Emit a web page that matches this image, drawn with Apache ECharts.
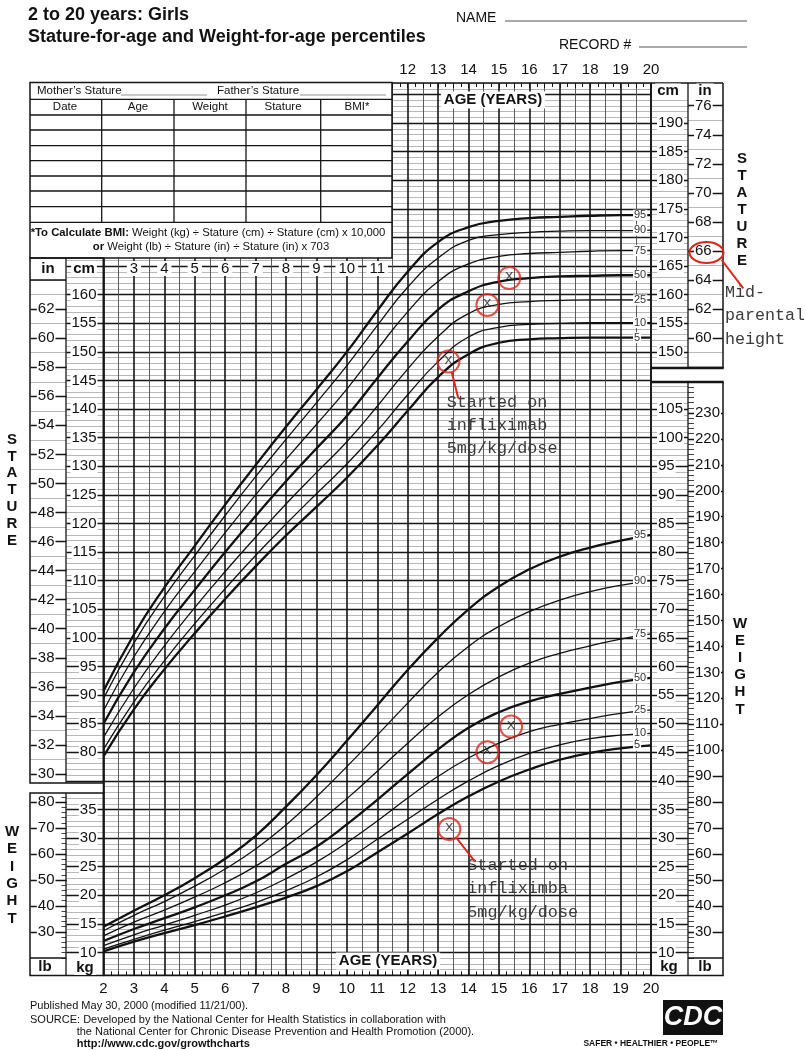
<!DOCTYPE html>
<html><head><meta charset="utf-8">
<script src="https://cdn.jsdelivr.net/npm/echarts@6/dist/echarts.min.js"></script>
<style>html,body{margin:0;padding:0;background:#fff}#c{width:806px;height:1050px}</style>
</head><body><div id="c"></div>
<script>
// ---------------- data ----------------
const ages = [2,3,4,5,6,7,8,9,10,11,12,13,14,15,16,17,18,19,20];
const stat5  = [79.3,87.5,94.5,100.8,106.8,112.5,117.9,122.9,128.0,133.6,139.7,145.6,149.6,151.6,152.2,152.4,152.5,152.5,152.5];
const stat10 = [80.5,88.8,96.0,102.5,108.6,114.4,119.9,125.2,130.4,136.2,142.5,148.3,152.6,154.3,154.8,155.0,155.1,155.1,155.1];
const stat25 = [82.6,91.2,98.6,105.3,111.6,117.6,123.4,128.9,134.3,140.5,147.0,152.7,156.7,158.3,158.8,159.0,159.1,159.1,159.1];
const stat50 = [85.0,94.0,101.6,108.4,115.0,121.3,127.4,133.1,138.8,145.4,151.8,157.4,160.6,162.3,162.9,163.2,163.3,163.4,163.4];
const stat75 = [87.3,96.7,104.6,111.6,118.4,125.0,131.2,137.3,143.5,150.4,157.0,162.3,165.4,166.7,167.2,167.4,167.6,167.7,167.7];
const stat90 = [89.4,99.1,107.2,114.4,121.4,128.2,134.7,141.1,147.6,154.6,161.3,166.4,169.5,170.5,170.9,171.1,171.2,171.2,171.3];
const stat95 = [90.7,100.6,108.8,116.1,123.3,130.2,136.9,143.4,150.0,157.2,164.0,169.2,171.8,172.9,173.4,173.6,173.8,173.9,173.9];

const wt5  = [10.2,11.9,13.4,14.8,16.3,17.9,19.6,21.6,24.2,27.5,30.8,34.2,37.3,39.9,42.0,43.7,44.9,45.7,46.2];
const wt10 = [10.6,12.3,13.9,15.4,17.0,18.7,20.8,23.2,26.2,29.8,33.3,36.8,40.0,42.7,44.8,46.3,47.4,48.0,48.3];
const wt25 = [11.2,13.1,14.8,16.5,18.3,20.4,22.9,25.8,29.2,33.0,37.0,40.8,44.0,46.6,48.6,49.9,50.9,51.8,52.4];
const wt50 = [12.0,14.1,16.0,17.9,20.0,22.4,25.5,28.5,32.4,36.7,41.2,45.5,49.3,52.0,53.9,55.2,56.3,57.3,58.0];
const wt75 = [12.9,15.3,17.4,19.7,22.2,25.1,28.6,32.5,36.9,41.7,46.6,51.2,55.1,58.2,60.6,62.3,63.6,64.8,65.7];
const wt90 = [13.8,16.5,18.9,21.6,24.6,28.1,32.3,37.2,42.5,48.0,53.6,59.0,63.5,67.0,69.6,71.6,73.1,74.2,75.0];
const wt95 = [14.5,17.3,20.0,23.0,26.4,30.4,35.5,41.0,47.0,53.2,59.4,65.0,70.0,74.0,77.0,79.2,80.8,82.0,83.0];

// patient measurements (circled x marks)
const patStatAge = [13.34, 14.62, 15.34];
const patStatCm  = [148.3, 158.2, 162.9];
const patWtAge   = [13.37, 14.62, 15.4];
const patWtKg    = [31.6, 45.0, 49.5];

// tick labels
const ageLabelsBottom = [2,3,4,5,6,7,8,9,10,11,12,13,14,15,16,17,18,19,20];
const ageLabelsTop    = [12,13,14,15,16,17,18,19,20];
const ageLabelsMid    = [3,4,5,6,7,8,9,10,11];
const leftCmLabels  = [80,85,90,95,100,105,110,115,120,125,130,135,140,145,150,155,160];
const leftInLabels  = [30,32,34,36,38,40,42,44,46,48,50,52,54,56,58,60,62];
const leftKgLabels  = [10,15,20,25,30,35];
const leftLbLabels  = [30,40,50,60,70,80];
const rightCmLabels = [150,155,160,165,170,175,180,185,190];
const rightInLabels = [60,62,64,66,68,70,72,74,76];
const rightKgLabels = [10,15,20,25,30,35,40,45,50,55,60,65,70,75,80,85,90,95,100,105];
const rightLbLabels = [30,40,50,60,70,80,90,100,110,120,130,140,150,160,170,180,190,200,210,220,230];

// ---------------- layout ----------------
const SANS = "'Liberation Sans', Arial, Helvetica, sans-serif";
const MONO = "'Liberation Mono', 'Courier New', monospace";
const RED = '#e2231a';
const P = 5.72, Y10 = 952.5;           // px per kg/cm, pixel row of 10 kg
const kgMin = 6, kgMax = 162;
const cmMin = kgMin + 35, cmMax = kgMax + 35;
const IN = 2.54, LB = 2.20462;
const GL = 103.5, GR = 651;
const GT = Y10 - (kgMax - 10) * P, GB = Y10 + (10 - kgMin) * P;
const lineG = '#a6a6a6', lineD = '#151515';

function range(a, b, s) { const r = []; for (let v = a; v <= b + 1e-9; v += s) r.push(+v.toFixed(4)); return r; }

function sideAxis(pos, offset, min, max, ticks, len, color, width, labels, margin, z) {
  const a = { type: 'value', gridIndex: 0, position: pos, offset: offset, min: min, max: max, z: z || 1,
    splitLine: { show: false }, axisLine: { show: false },
    axisTick: { show: true, customValues: ticks, length: len, lineStyle: { color: color, width: width } },
    axisLabel: { show: false } };
  if (labels) a.axisLabel = { show: true, customValues: labels, margin: margin, fontSize: 15, color: '#111',
    fontFamily: SANS, backgroundColor: '#fff', padding: [0, 1] };
  return a;
}

const yAxes = [
  { type: 'value', gridIndex: 0, position: 'left', min: kgMin, max: kgMax, interval: 1,
    axisLine: { show: false }, axisTick: { show: false }, axisLabel: { show: false },
    splitLine: { show: true, lineStyle: { color: [lineG, lineG, lineG, lineG, 'rgba(0,0,0,0)'], width: 0.8 } } },
  { type: 'value', gridIndex: 0, position: 'right', min: cmMin, max: cmMax, show: false },
  sideAxis('left', 0, cmMin, cmMax, range(75, 166, 1), 37, lineG, 0.8, null, 0, 1),
  sideAxis('left', 0, cmMin, cmMax, range(75, 165, 5), 37, lineD, 1.3, leftCmLabels, 6, 2),
  sideAxis('left', 37, cmMin / IN, cmMax / IN, range(30, 64, 1), 36, lineG, 0.8, null, 0, 1),
  sideAxis('left', 37, cmMin / IN, cmMax / IN, range(30, 62, 2), 36, lineD, 1.3, leftInLabels, 11, 2),
  sideAxis('left', 0, kgMin, kgMax, range(10, 37, 1), 37, lineG, 0.8, null, 0, 1),
  sideAxis('left', 0, kgMin, kgMax, range(10, 35, 5), 37, lineD, 1.3, leftKgLabels, 6, 2),
  sideAxis('left', 37, kgMin * LB, kgMax * LB, range(20, 82, 2), 5, lineD, 0.8, null, 0, 1),
  sideAxis('left', 37, kgMin * LB, kgMax * LB, range(30, 80, 10), 36, lineD, 1.3, leftLbLabels, 11, 2),
  sideAxis('right', 0, cmMin, cmMax, range(148, 194, 1), 37, lineG, 0.8, null, 0, 1),
  sideAxis('right', 0, cmMin, cmMax, range(150, 190, 5), 37, lineD, 1.3, rightCmLabels, 6, 2),
  sideAxis('right', 37, cmMin / IN, cmMax / IN, range(58, 76, 1), 35, lineG, 0.8, null, 0, 1),
  sideAxis('right', 37, cmMin / IN, cmMax / IN, range(58, 76, 2), 35, lineD, 1.3, rightInLabels, 6, 2),
  sideAxis('right', 0, kgMin, kgMax, range(10, 109, 1), 37, lineG, 0.8, null, 0, 1),
  sideAxis('right', 0, kgMin, kgMax, range(10, 105, 5), 37, lineD, 1.3, rightKgLabels, 6, 2),
  sideAxis('right', 37, kgMin * LB, kgMax * LB, range(20, 240, 2), 6, lineD, 0.8, null, 0, 1),
  sideAxis('right', 37, kgMin * LB, kgMax * LB, range(30, 230, 10), 35, lineD, 1.3, rightLbLabels, 6, 2),
  { type: 'value', gridIndex: 1, position: 'left', min: 10, max: 160, interval: 5,
    axisLine: { show: false }, axisTick: { show: false }, axisLabel: { show: false },
    splitLine: { show: true, lineStyle: { color: lineD, width: 1.4 } } }
];

const xAxes = [
  { type: 'value', gridIndex: 0, position: 'bottom', min: 2, max: 20, interval: 1,
    axisLine: { show: false },
    axisTick: { show: true, inside: true, length: 6, lineStyle: { color: lineD } },
    minorTick: { show: true, splitNumber: 4, length: 4, lineStyle: { color: lineD } },
    axisLabel: { show: true, customValues: ageLabelsBottom, margin: 6, fontSize: 15, color: '#111', fontFamily: SANS },
    splitLine: { show: true, lineStyle: { color: lineD, width: 1.6 } } },
  { type: 'value', gridIndex: 0, position: 'top', min: 2, max: 20, interval: 0.5,
    axisLine: { show: false },
    axisTick: { show: true, inside: true, length: 5, lineStyle: { color: lineD } },
    minorTick: { show: true, splitNumber: 2, length: 4, lineStyle: { color: lineD } },
    axisLabel: { show: true, customValues: ageLabelsTop, margin: 6, fontSize: 15, color: '#111', fontFamily: SANS },
    splitLine: { show: true, lineStyle: { color: ['rgba(0,0,0,0)', '#4a4a4a'], width: 0.9 } } },
  { type: 'value', gridIndex: 0, position: 'top', offset: -(268.5 - GT), min: 2, max: 20, z: 5,
    axisLine: { show: false }, axisTick: { show: false }, splitLine: { show: false },
    axisLabel: { show: true, customValues: ageLabelsMid, margin: 0, verticalAlign: 'middle', fontSize: 15,
      color: '#111', fontFamily: SANS, backgroundColor: '#fff', padding: [0, 3] } },
  { type: 'value', gridIndex: 1, min: 2, max: 20, show: false }
];

function curve(name, ys, yIdx, thick) {
  return { type: 'line', name: name, xAxisIndex: 0, yAxisIndex: yIdx, silent: true,
    data: ages.map((a, i) => [a, ys[i]]), smooth: 0.5, symbol: 'none', z: 3,
    lineStyle: { color: '#111', width: thick ? 2.3 : 1.3 },
    endLabel: { show: true, formatter: name, offset: [-26, 0], fontSize: 11, color: '#333', fontFamily: SANS,
      backgroundColor: '#fff', padding: [0, 1] } };
}
function marks(xs, ys, yIdx) {
  return { type: 'scatter', xAxisIndex: 0, yAxisIndex: yIdx, silent: true, z: 6,
    data: xs.map((a, i) => [a, ys[i]]), symbol: 'circle', symbolSize: 22,
    itemStyle: { color: 'rgba(0,0,0,0)', borderColor: RED, borderWidth: 2 },
    label: { show: true, position: 'inside', formatter: 'x', fontFamily: MONO, fontSize: 15, color: '#222', offset: [0, -2] } };
}

const series = [
  curve('5', stat5, 1, true), curve('10', stat10, 1, false), curve('25', stat25, 1, false),
  curve('50', stat50, 1, true), curve('75', stat75, 1, false), curve('90', stat90, 1, false), curve('95', stat95, 1, true),
  curve('5', wt5, 0, true), curve('10', wt10, 0, false), curve('25', wt25, 0, false),
  curve('50', wt50, 0, true), curve('75', wt75, 0, false), curve('90', wt90, 0, false), curve('95', wt95, 0, true),
  marks(patStatAge, patStatCm, 1), marks(patWtAge, patWtKg, 0)
];

// ---------------- graphic (frames, table, texts) ----------------
const G = [];
function L(x1, y1, x2, y2, w, c, z) { G.push({ type: 'line', silent: true, z: z || 60, shape: { x1, y1, x2, y2 }, style: { stroke: c || lineD, lineWidth: w || 1.5 } }); }
function R(x, y, w, h, fill, stroke, lw, z) { G.push({ type: 'rect', silent: true, z: z || 60, shape: { x, y, width: w, height: h }, style: { fill: fill || 'none', stroke: stroke || null, lineWidth: lw || 1.5 } }); }
function T(x, y, text, font, o, z) { G.push({ type: 'text', silent: true, z: z || 61, x, y, style: Object.assign({ text, fill: '#111', font: font || ('15px ' + SANS), align: 'left', verticalAlign: 'middle' }, o || {}) }); }

R(22, 58, 370, 200, '#fff', null, 0, 50);

T(28, 15, '2 to 20 years: Girls', 'bold 18px ' + SANS);
T(28, 37, 'Stature-for-age and Weight-for-age percentiles', 'bold 18px ' + SANS);
T(456, 18, 'NAME', '14px ' + SANS); L(505, 21, 747, 21, 1, '#555');
T(559, 45, 'RECORD #', '14px ' + SANS); L(639, 47, 747, 47, 1, '#555');

const rowsY = [99.3, 115, 130, 145.7, 160.7, 176, 191, 206.7, 222.3];
R(30, 82.5, 362, 175.5, 'none', lineD, 1.5);
rowsY.forEach(y => L(30, y, 392, y, 1.3));
[101.7, 174, 246, 320.7].forEach(x => L(x, 99.3, x, 222.3, 1.3));
T(37, 91, 'Mother\u2019s Stature', '11.5px ' + SANS); L(121, 95, 207, 95, 0.8, '#777');
T(217, 91, 'Father\u2019s Stature', '11.5px ' + SANS); L(300, 95, 386, 95, 0.8, '#777');
[['Date', 65], ['Age', 138], ['Weight', 210], ['Stature', 283], ['BMI*', 357]].forEach(d => T(d[1], 107.3, d[0], '11.5px ' + SANS, { align: 'center' }));
T(208, 233, '{b|*To Calculate BMI:} Weight (kg) \u00f7 Stature (cm) \u00f7 Stature (cm) x 10,000', '11.3px ' + SANS,
  { align: 'center', rich: { b: { font: 'bold 11.3px ' + SANS, fill: '#111' } } });
T(211, 246.5, '{b|or} Weight (lb) \u00f7 Stature (in) \u00f7 Stature (in) x 703', '11.3px ' + SANS,
  { align: 'center', rich: { b: { font: 'bold 11.3px ' + SANS, fill: '#111' } } });

R(30, 258, 73.5, 525, 'none', lineD, 1.5);
L(66, 258, 66, 783, 1.3); L(30, 280, 66, 280, 1.3);
T(48, 268.5, 'in', 'bold 15px ' + SANS, { align: 'center' });
T(84, 268.5, 'cm', 'bold 15px ' + SANS, { align: 'center', backgroundColor: '#fff', padding: [0, 2] });
R(30, 793, 73.5, GB - 793, 'none', lineD, 1.5);
L(66, 793, 66, GB, 1.3); L(30, 958, 66, 958, 1.3);
T(45, 967, 'lb', 'bold 15px ' + SANS, { align: 'center' });
T(85, 967.5, 'kg', 'bold 15px ' + SANS, { align: 'center', backgroundColor: '#fff', padding: [0, 2] });
L(GL, 258, GL, GB, 1.6); L(GL, GB, GR, GB, 1.6); L(392, GT, GR, GT, 1.6); L(GR, GT, GR, GB, 1.6);
L(GR, GT, 723, GT, 1.5); L(723, GT, 723, 368, 1.5); L(688, GT, 688, 368, 1.3); L(GR, 368, 723.7, 368, 2.6);
T(668, 91, 'cm', 'bold 15px ' + SANS, { align: 'center', backgroundColor: '#fff', padding: [0, 2] });
T(705, 91, 'in', 'bold 15px ' + SANS, { align: 'center', backgroundColor: '#fff', padding: [0, 2] });
L(GR, 382, 723.7, 382, 2.6); L(723, 382, 723, GB, 1.5); L(688, 382, 688, GB, 1.3); L(GR, GB, 723.7, GB, 1.5);
L(688, 958, 723, 958, 1.3);
T(669, 967, 'kg', 'bold 15px ' + SANS, { align: 'center', backgroundColor: '#fff', padding: [0, 2] });
T(705, 967, 'lb', 'bold 15px ' + SANS, { align: 'center' });

T(493, 100, 'AGE (YEARS)', 'bold 15px ' + SANS, { align: 'center', backgroundColor: '#fff', padding: [1, 3] });
T(388, 961, 'AGE (YEARS)', 'bold 15px ' + SANS, { align: 'center', backgroundColor: '#fff', padding: [1, 3] });

function vword(x, y0, dy, word) { word.split('').forEach((ch, i) => T(x, y0 + i * dy, ch, 'bold 15px ' + SANS, { align: 'center' })); }
vword(12, 439.5, 16.9, 'STATURE');
vword(742, 159.3, 16.9, 'STATURE');
vword(12, 832, 17.3, 'WEIGHT');
vword(740, 623.5, 17.2, 'WEIGHT');

G.push({ type: 'ellipse', silent: true, z: 62, shape: { cx: 706.5, cy: 252.5, rx: 17, ry: 10.5 }, style: { fill: 'none', stroke: RED, lineWidth: 2 } });
L(721.7, 260, 743.3, 288.3, 2, RED, 62);
['Mid-', 'parental', 'height'].forEach((s, i) => T(725, 292.7 + i * 23.3, s, '16.7px ' + MONO, { fill: '#3a3a3a' }));
L(451.7, 372, 458.3, 398.3, 2, RED, 62);
['Started on', 'infliximab', '5mg/kg/dose'].forEach((s, i) => T(446.7, 402.3 + i * 23.3, s, '16.8px ' + MONO, { fill: '#3a3a3a' }));
L(456.5, 838, 475, 861.7, 2, RED, 62);
['Started on', 'infliximba', '5mg/kg/dose'].forEach((s, i) => T(467.3, 865.7 + i * 23.3, s, '16.8px ' + MONO, { fill: '#3a3a3a' }));

T(30, 1006, 'Published May 30, 2000 (modified 11/21/00).', '11px ' + SANS);
T(30, 1020, 'SOURCE: Developed by the National Center for Health Statistics in collaboration with', '11px ' + SANS);
T(76.7, 1032, 'the National Center for Chronic Disease Prevention and Health Promotion (2000).', '11px ' + SANS);
T(76.7, 1043.5, 'http://www.cdc.gov/growthcharts', 'bold 11px ' + SANS);
R(663, 1000, 60, 35, '#111', null, 0, 60);
T(693, 1018, 'CDC', 'italic bold 27px ' + SANS, { align: 'center', fill: '#fff' });
T(651, 1044, 'SAFER \u2022 HEALTHIER \u2022 PEOPLE\u2122', 'bold 8.5px ' + SANS, { align: 'center' });

const chart = echarts.init(document.getElementById('c'));
chart.setOption({
  animation: false,
  backgroundColor: '#fff',
  grid: [
    { left: GL, top: GT, width: GR - GL, height: GB - GT },
    { left: GL, top: Y10 - 150 * P, width: GR - GL, height: 150 * P }
  ],
  xAxis: xAxes,
  yAxis: yAxes,
  series: series,
  graphic: { elements: G }
});
</script></body></html>
